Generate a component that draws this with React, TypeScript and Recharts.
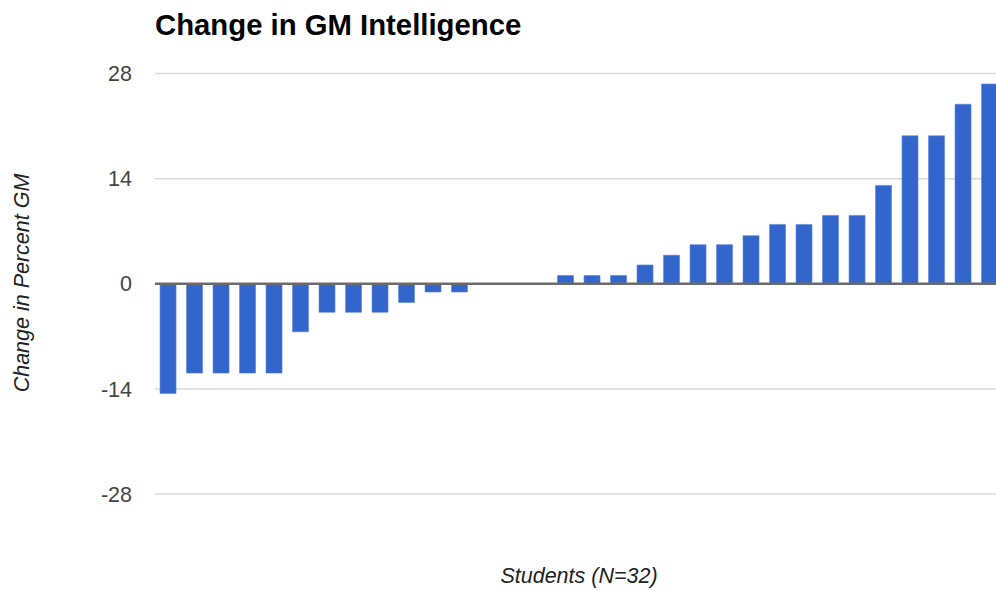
import React from 'react';
import { BarChart, Bar, XAxis, YAxis, CartesianGrid, ReferenceLine } from 'recharts';

const students = [
  '1', '2', '3', '4', '5', '6', '7', '8', '9', '10', '11', '12', '13', '14', '15', '16',
  '17', '18', '19', '20', '21', '22', '23', '24', '25', '26', '27', '28', '29', '30', '31', '32',
];

const changes = [
  -14.6, -11.9, -11.9, -11.9, -11.9, -6.4, -3.8, -3.8, -3.8, -2.5, -1.1, -1.1,
  0, 0, 0,
  1.1, 1.1, 1.1, 2.5, 3.8, 5.2, 5.2, 6.4, 7.9, 7.9, 9.1, 9.1, 13.1, 19.7, 19.7, 23.9, 26.6,
];

const yTicks = [-28, -14, 0, 14, 28];

const data = students.map((student, i) => ({ student, change: changes[i] }));

const font = '"Liberation Sans", Arial, sans-serif';

export default function App() {
  return (
    <div style={{ position: 'fixed', top: 0, left: 0, width: 996, height: 591, overflow: 'hidden', background: '#fff' }}>
      <BarChart
        width={1010}
        height={591}
        data={data}
        margin={{ top: 73.5, right: 7, bottom: 97, left: 95 }}
        barCategoryGap="19%"
      >
        <CartesianGrid horizontal vertical={false} stroke="#dadada" strokeWidth={1.5} />
        <XAxis dataKey="student" hide />
        <YAxis
          width={60}
          domain={[-28, 28]}
          ticks={yTicks}
          axisLine={false}
          tickLine={false}
          tickSize={0}
          tickMargin={23}
          tick={{ fill: '#444', fontSize: 21.5, fontFamily: font }}
        />
        <Bar dataKey="change" fill="#3366cc" stroke="#5b84d6" strokeWidth={0.6} isAnimationActive={false} />
        <ReferenceLine y={0} stroke="#6b6b6b" strokeWidth={2.5} />
      </BarChart>
      <svg
        width={996}
        height={591}
        style={{ position: 'absolute', top: 0, left: 0, pointerEvents: 'none' }}
        fontFamily={font}
      >
        <text x={155} y={35} fontSize={29.3} fontWeight="bold" fill="#000">
          Change in GM Intelligence
        </text>
        <text
          transform="translate(29,283) rotate(-90)"
          textAnchor="middle"
          fontSize={21.5}
          fontStyle="italic"
          fill="#222"
        >
          Change in Percent GM
        </text>
        <text x={579} y={583} textAnchor="middle" fontSize={21.5} fontStyle="italic" fill="#222">
          Students (N=32)
        </text>
      </svg>
    </div>
  );
}
